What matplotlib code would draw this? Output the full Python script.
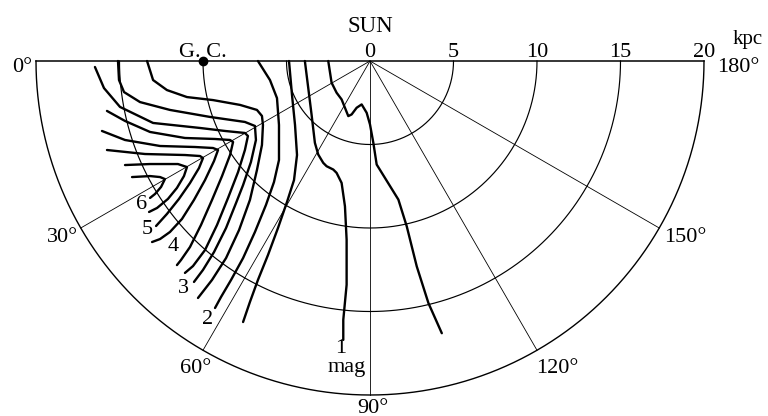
import numpy as np
import matplotlib
matplotlib.use("Agg")
import matplotlib.pyplot as plt

# heliocentric coordinates in kpc: X towards l=0 (G.C.), Y towards l=90
rings = [5, 10, 15, 20]
spokes = [30, 60, 90, 120, 150]
gc_dist = 10

# extinction contours (X, Y in kpc)
c_a = [(2.5, 0.0), (2.3, 1.3), (2.0, 1.9), (1.7, 2.3), (1.5, 2.8), (1.3, 3.3), (1.1, 3.2),
       (0.8, 2.8), (0.5, 2.6), (0.2, 3.1), (0.0, 3.8), (-0.2, 4.9), (-0.4, 6.2), (-1.7, 8.3),
       (-2.2, 9.9), (-2.8, 12.3), (-3.5, 14.5), (-4.3, 16.3)]
c_1 = [(3.9, 0.0), (3.7, 1.6), (3.5, 3.2), (3.3, 4.9), (3.1, 5.6), (2.8, 6.1), (2.6, 6.3),
       (2.2, 6.5), (2.0, 6.7), (1.7, 7.3), (1.5, 8.7), (1.4, 10.7), (1.4, 13.4), (1.6, 15.5),
       (1.6, 16.7)]
c_b = [(4.85, 0.0), (4.67, 2.04), (4.49, 3.83), (4.37, 5.63), (4.55, 7.13), (4.97, 8.44),
       (5.51, 10.0), (6.11, 11.62), (6.71, 13.11), (7.19, 14.43), (7.6, 15.63)]
c_2 = [(6.71, 0.0), (5.99, 1.14), (5.57, 2.22), (5.45, 3.83), (5.45, 5.93), (5.75, 7.25),
       (6.23, 8.62), (6.89, 10.24), (7.6, 11.8), (8.32, 13.11), (8.92, 14.13), (9.28, 14.79)]
c_3 = [(13.35, 0.0), (12.99, 1.14), (12.16, 1.74), (10.96, 2.16), (9.4, 2.34), (7.78, 2.63),
       (6.77, 2.93), (6.47, 3.29), (6.41, 3.83), (6.47, 5.03), (6.77, 6.53), (7.19, 8.32),
       (7.84, 10.12), (8.62, 11.8), (9.46, 13.11), (10.3, 14.19)]
c_d = [(15.09, 0.0), (15.03, 1.14), (14.73, 1.86), (13.77, 2.46), (11.98, 2.93), (9.58, 3.35),
       (7.49, 3.65), (6.89, 3.89), (6.83, 4.73), (7.13, 6.05), (7.6, 7.43), (8.02, 8.5),
       (8.62, 10.0), (9.34, 11.44), (10.0, 12.51), (10.54, 13.23)]
c_e = [(16.47, 0.36), (15.93, 1.62), (14.97, 2.75), (12.99, 3.71), (10.18, 4.01), (8.68, 4.19),
       (7.49, 4.31), (7.31, 4.49), (7.49, 5.33), (7.9, 6.65), (8.5, 8.2), (9.16, 9.82),
       (9.88, 11.32), (10.6, 12.28), (11.08, 12.69)]
c_4 = [(15.75, 2.99), (14.67, 3.59), (13.17, 4.25), (11.08, 4.61), (9.28, 4.67), (8.38, 4.73),
       (8.2, 4.85), (8.38, 5.63), (8.86, 6.89), (9.46, 8.32), (10.12, 9.82), (10.78, 11.14),
       (11.32, 11.92), (11.56, 12.22)]
c_5 = [(16.05, 4.19), (14.67, 4.73), (12.57, 5.09), (10.48, 5.15), (9.4, 5.21), (9.1, 5.33),
       (9.34, 5.99), (9.88, 7.13), (10.54, 8.32), (11.26, 9.46), (11.98, 10.24), (12.57, 10.66),
       (13.05, 10.84)]
c_f = [(15.75, 5.33), (13.47, 5.57), (11.08, 5.63), (10.18, 5.69), (10.0, 5.81), (10.24, 6.41),
       (10.78, 7.31), (11.44, 8.26), (12.16, 9.16), (12.81, 9.88)]
c_g = [(14.67, 6.23), (13.17, 6.17), (11.5, 6.17), (10.96, 6.35), (11.14, 6.89), (11.56, 7.6),
       (12.1, 8.26), (12.75, 8.8), (13.23, 9.04)]
c_6 = [(14.25, 6.95), (13.17, 6.89), (12.57, 6.95), (12.28, 7.07), (12.51, 7.54), (12.87, 7.96),
       (13.17, 8.2)]
contours = [c_a, c_1, c_b, c_2, c_3, c_d, c_e, c_4, c_5, c_f, c_g, c_6]

# contour labels: text, X, Y (kpc)
mag_labels = [("6", 13.7, 8.6), ("5", 13.35, 10.1), ("4", 11.8, 11.1), ("3", 11.2, 13.65),
              ("2", 9.75, 15.5), ("1", 1.75, 17.2)]

S = 16.7  # pixels per kpc
fig = plt.figure(figsize=(7.68, 4.16), dpi=100)
ax = fig.add_axes([0, 0, 1, 1])
ax.set_xlim(370 / S, (370 - 768) / S)
ax.set_ylim(355 / S, -61 / S)
ax.axis("off")

serif = "Liberation Serif"
fs = 16
l = np.radians(np.linspace(0, 180, 361))
for r in rings:
    ax.plot(r * np.cos(l), r * np.sin(l), color="black", lw=1.0 if r == 20 else 0.85)
for s in spokes:
    a = np.radians(s)
    ax.plot([0, 20 * np.cos(a)], [0, 20 * np.sin(a)], color="black", lw=0.6)
ax.plot([20, -20], [0, 0], color="black", lw=1.1)

for c in contours:
    xy = np.array(c)
    ax.plot(xy[:, 0], xy[:, 1], color="black", lw=1.7, solid_capstyle="round",
            solid_joinstyle="round")

ax.plot(gc_dist, 0, "o", color="black", ms=6)
ax.text(gc_dist, -0.24, "G. C.", family=serif, fontsize=16, ha="center", va="baseline")

# distance scale along the top
for r in rings:
    ax.text(-r, -0.24, str(r), family=serif, fontsize=fs, ha="center", va="baseline")
ax.text(0, -0.24, "0", family=serif, fontsize=fs, ha="center", va="baseline")
ax.text(0, -1.74, "SUN", family=serif, fontsize=16.5, ha="center", va="baseline")
ax.text(-22.6, -1.0, "kpc", family=serif, fontsize=15, ha="center", va="baseline")

# longitude labels
ax.text(20.24, 0.66, "0°", family=serif, fontsize=fs, ha="right", va="baseline")
ax.text(-20.78, 0.66, "180°", family=serif, fontsize=fs, ha="left", va="baseline")
ax.text(17.49, 10.84, "30°", family=serif, fontsize=fs, ha="right", va="baseline")
ax.text(11.38, 18.68, "60°", family=serif, fontsize=fs, ha="left", va="baseline")
ax.text(-0.2, 21.05, "90°", family=serif, fontsize=fs, ha="center", va="baseline")
ax.text(-9.94, 18.68, "120°", family=serif, fontsize=fs, ha="left", va="baseline")
ax.text(-17.6, 10.84, "150°", family=serif, fontsize=fs, ha="left", va="baseline")

for t, x, y in mag_labels:
    ax.text(x, y, t, family=serif, fontsize=fs, ha="center", va="center")
ax.text(1.38, 18.35, "mag", family=serif, fontsize=fs, ha="center", va="center")

fig.savefig("out.png", dpi=100)
